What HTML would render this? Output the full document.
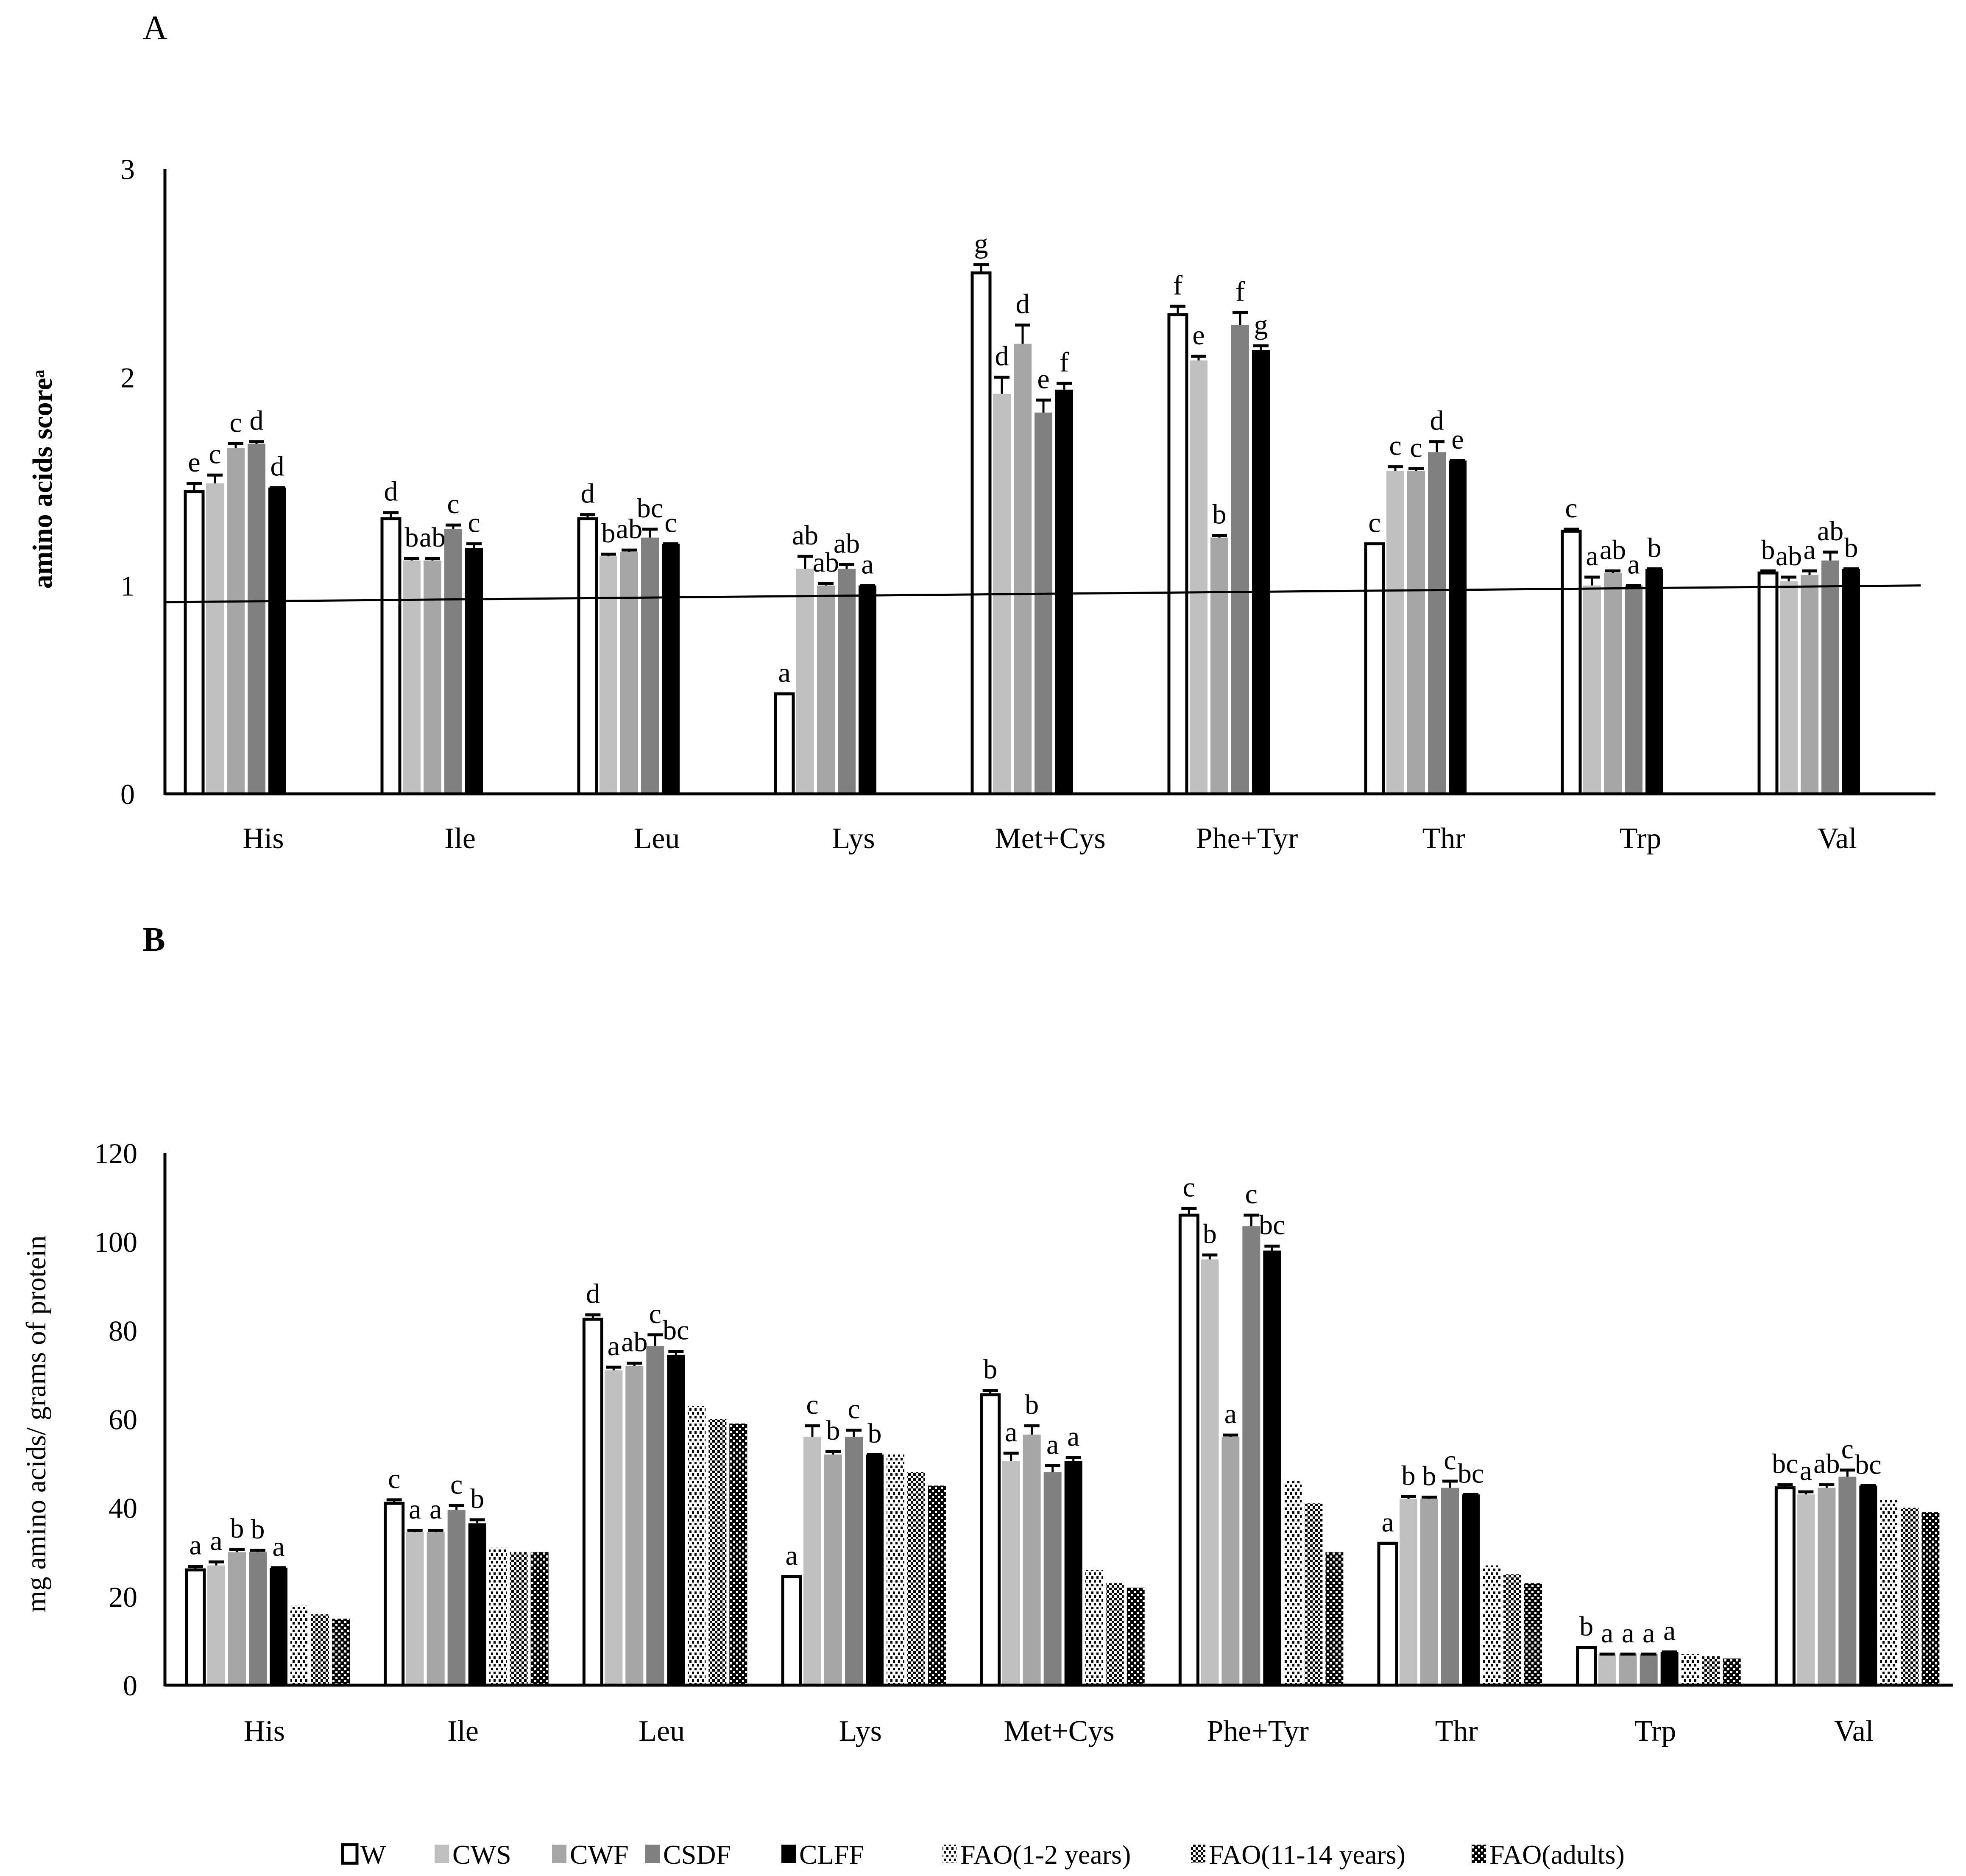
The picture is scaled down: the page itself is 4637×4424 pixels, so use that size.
<!DOCTYPE html>
<html><head><meta charset="utf-8"><style>
html,body{margin:0;padding:0;background:#fff;}
svg text{font-family:"Liberation Serif",serif;fill:#000;}
</style></head><body>
<svg id="s" xmlns="http://www.w3.org/2000/svg" width="4637" height="4419" viewBox="0 0 4637 4419">
<defs>
<pattern id="p1" width="12" height="18" patternUnits="userSpaceOnUse"><rect width="12" height="18" fill="#fff"/><rect x="0" y="0" width="5" height="6" fill="#000"/><rect x="6" y="9" width="5" height="6" fill="#000"/></pattern>
<pattern id="p2" width="12" height="12" patternUnits="userSpaceOnUse"><rect width="12" height="12" fill="#fff"/><rect x="0" y="0" width="6" height="6" fill="#000"/><rect x="6" y="6" width="6" height="6" fill="#000"/></pattern>
<pattern id="p3" width="14" height="14" patternUnits="userSpaceOnUse"><rect width="14" height="14" fill="#000"/><rect x="0" y="0" width="5" height="5" fill="#fff"/><rect x="7" y="7" width="5" height="5" fill="#fff"/></pattern>
</defs>
<g id="gA"></g>
<g id="gB"></g>
<g id="gL"></g>
</svg>
<script>
const categories = ["His","Ile","Leu","Lys","Met+Cys","Phe+Tyr","Thr","Trp","Val"];
const seriesNames = ["W","CWS","CWF","CSDF","CLFF","FAO(1-2 years)","FAO(11-14 years)","FAO(adults)"];
const aW    = [1.45,1.32,1.32,0.48,2.50,2.30,1.20,1.26,1.06];
const aCWS  = [1.49,1.12,1.14,1.08,1.92,2.08,1.55,1.00,1.02];
const aCWF  = [1.66,1.12,1.16,1.00,2.16,1.23,1.55,1.06,1.05];
const aCSDF = [1.68,1.27,1.23,1.08,1.83,2.25,1.64,1.00,1.12];
const aCLFF = [1.47,1.18,1.20,1.00,1.94,2.13,1.60,1.08,1.08];
const aErr  = [[0.04,0.03,0.02,0,0.04,0.04,0,0.01,0.01],[0.04,0.01,0.01,0.06,0.08,0.02,0.02,0.04,0.02],[0.02,0.01,0.01,0.01,0.09,0.01,0.01,0.01,0.02],[0.01,0.02,0.04,0.02,0.06,0.06,0.05,0,0.04],[0,0.02,0,0,0.03,0.02,0,0,0]];
const aLetters = [["e","d","d","a","g","f","c","c","b"],["c","b","b","ab","d","e","c","a","ab"],["c","ab","ab","ab","d","b","c","ab","a"],["d","c","bc","ab","e","f","d","a","ab"],["d","c","c","a","f","g","e","b","b"]];
const aTicks = [0,1,2,3];
const refLine = [0.92,1.0];
const bW    = [26,41,82.5,24.5,65.5,106,32,8.5,44.5];
const bCWS  = [27,34.5,71,56,50.5,96,42,7,43];
const bCWF  = [30,34.5,72,52,56.5,56,42,7,44.5];
const bCSDF = [30,39.5,76.5,56,48,103.5,44.5,7,47];
const bCLFF = [26.5,36.5,74.5,52,50.5,98,43,7.5,45];
const bFAO1 = [18,31,63,52,26,46,27,7,42];
const bFAO2 = [16,30,60,48,23,41,25,6.5,40];
const bFAO3 = [15,30,59,45,22,30,23,6,39];
const bErr  = [[0.8,0.8,1,0,1,1.5,0,0,0.7],[0.8,0.4,0.7,2.5,1.8,1,0.5,0,0.6],[0.6,0.4,0.6,0.7,2,0.4,0.4,0,0.7],[0.4,1,2.5,1.5,1.5,2.5,1.5,0,1.5],[0,0.8,0.8,0,0.8,1,0,0,0]];
const bLetters = [["a","c","d","a","b","c","a","b","bc"],["a","a","a","c","a","b","b","a","a"],["b","a","ab","b","b","a","b","a","ab"],["b","c","c","c","a","c","c","a","c"],["a","b","bc","b","a","bc","bc","a","bc"]];
const bTicks = [0,20,40,60,80,100,120];

const NS="http://www.w3.org/2000/svg";
const fills=["#fff","#c0c0c0","#a6a6a6","#808080","#000","url(#p1)","url(#p2)","url(#p3)"];
function mk(parent,tag,attrs,text){const e=document.createElementNS(NS,tag);for(const k in attrs)e.setAttribute(k,attrs[k]);if(text!==undefined)e.textContent=text;parent.appendChild(e);return e;}

function drawChart(g,cfg){
  const y=v=>cfg.y0-(v-cfg.vmin)/(cfg.vmax-cfg.vmin)*(cfg.y0-cfg.yTop);
  const cw=(cfg.xEnd-cfg.x0)/categories.length;
  const xb=(ci,si)=>cfg.x0+ci*cw+cfg.off+si*49;
  cfg.ticks.forEach(t=>{const e=mk(g,"text",{x:cfg.tickX,y:y(t)+24,"text-anchor":"end","font-size":68},String(t));
    
    });
  cfg.series.forEach((vals,si)=>{
    vals.forEach((v,ci)=>{
      const x=xb(ci,si), w=42, top=y(v);
      const r=mk(g,"rect",{x:x,y:top,width:w,height:cfg.y0-top,fill:fills[si],stroke:si===0?"#000":"none","stroke-width":si===0?7:0});
      
      
      if(si<5){
        const er=cfg.err[si][ci], et=y(v+er), cx=x+w/2;
        if(er>0){mk(g,"line",{x1:cx,y1:top,x2:cx,y2:et,stroke:"#000","stroke-width":5});}
        mk(g,"line",{x1:cx-18,y1:et,x2:cx+18,y2:et,stroke:"#000","stroke-width":7});
        const lt=mk(g,"text",{x:cx,y:et-28,"text-anchor":"middle","font-size":66},cfg.letters[si][ci]);
        
        
      }
    });
  });
  categories.forEach((c,ci)=>{const e=mk(g,"text",{x:cfg.x0+(ci+0.5)*cw,y:cfg.labY,"text-anchor":"middle","font-size":70},c);
    
    });
  if(cfg.ref){const l=mk(g,"line",{x1:cfg.x0,y1:y(cfg.ref[0]),x2:cfg.refEnd,y2:y(cfg.ref[1]),stroke:"#000","stroke-width":5});
    
    }
  mk(g,"line",{x1:cfg.x0,y1:cfg.yTop,x2:cfg.x0,y2:cfg.y0+3,stroke:"#000","stroke-width":7});
  mk(g,"line",{x1:cfg.x0,y1:cfg.y0,x2:cfg.xEnd,y2:cfg.y0,stroke:"#000","stroke-width":7});
}
drawChart(document.getElementById("gA"),{x0:389,xEnd:4565,y0:1872,yTop:398,vmin:0,vmax:3,off:48,ticks:aTicks,tickX:318,labY:2000,
  series:[aW,aCWS,aCWF,aCSDF,aCLFF],err:aErr,letters:aLetters,ref:refLine,refEnd:4530});
drawChart(document.getElementById("gB"),{x0:389,xEnd:4607,y0:3974,yTop:2719,vmin:0,vmax:120,off:51,ticks:bTicks,tickX:324,labY:4105,
  series:[bW,bCWS,bCWF,bCSDF,bCLFF,bFAO1,bFAO2,bFAO3],err:bErr,letters:bLetters});

const s=document.getElementById("s");
let t;
t=mk(s,"text",{x:366,y:92,"text-anchor":"middle","font-size":80},"A");


t=mk(s,"text",{x:363,y:2242,"text-anchor":"middle","font-size":80,"font-weight":"bold"},"B");


t=mk(s,"text",{x:0,y:0,"text-anchor":"middle","font-size":66,"font-weight":"bold",transform:"translate(122,1130) rotate(-90)"},"amino acids scoreᵃ");


t=mk(s,"text",{x:0,y:0,"text-anchor":"middle","font-size":66,transform:"translate(107,3358) rotate(-90)"},"mg amino acids/ grams  of protein");



const gL=document.getElementById("gL");
const legX=[808,1025,1302,1522,1843,2223,2809,3471];
seriesNames.forEach((n,i)=>{
  const r=mk(gL,"rect",{x:legX[i],y:4350,width:34,height:44,fill:fills[i],stroke:i===0?"#000":"none","stroke-width":i===0?7:0});
  
  
  const e=mk(gL,"text",{x:legX[i]+42,y:4395,"font-size":64},n);
  
  
});
</script>
</body></html>
